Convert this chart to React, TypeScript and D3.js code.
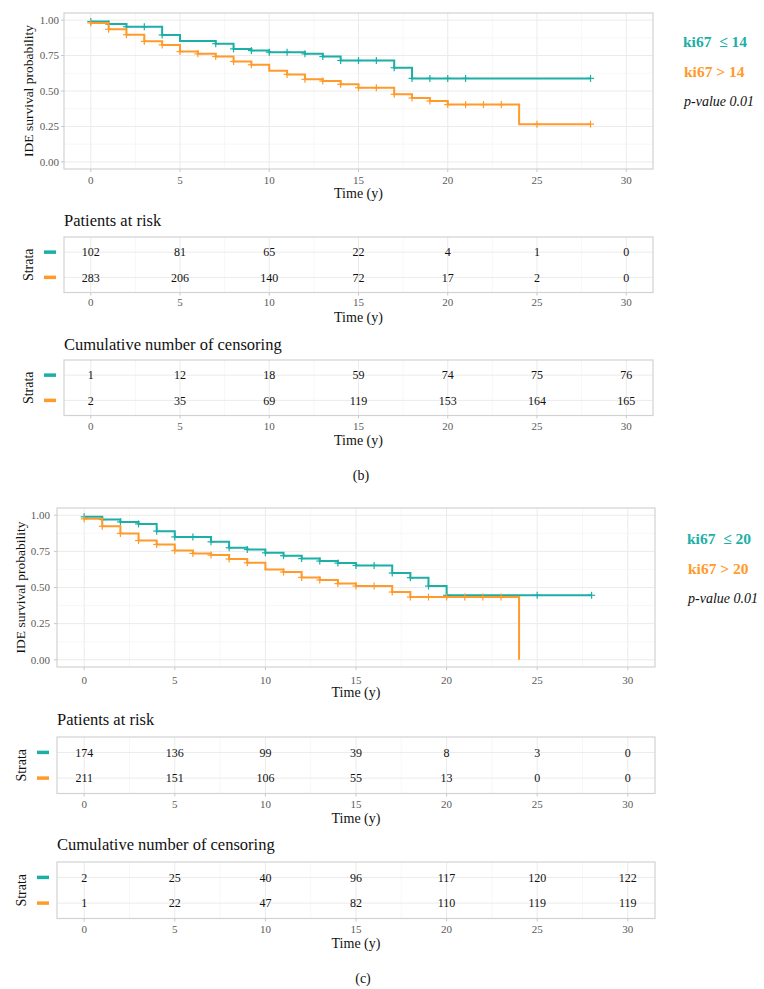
import React from 'react';
import * as d3 from 'd3';

const TEAL = '#1cafa6';
const ORANGE = '#ff9a2b';
const FONT = '"Liberation Serif", "Times New Roman", serif';

const timeTicks = [0, 5, 10, 15, 20, 25, 30];
const timeMinor = [2.5, 7.5, 12.5, 17.5, 22.5, 27.5];
const survTicks = [0, 0.25, 0.5, 0.75, 1];
const survMinor = [0.125, 0.375, 0.625, 0.875];
const survTickLabels = ['0.00', '0.25', '0.50', '0.75', '1.00'];

// Panel (b): ki67 cut-off 14
const bTealTimes = [0, 1, 2, 4, 5, 7, 8, 9, 10, 12, 13, 14, 17, 18];
const bTealSurv = [0.99, 0.972, 0.953, 0.895, 0.853, 0.834, 0.797, 0.785, 0.774, 0.762, 0.743, 0.715, 0.664, 0.589];
const bTealEnd = 28;
const bTealCensor = [0, 1, 2, 3, 4, 7, 8, 9, 10, 11, 12, 13, 14, 15, 16, 17, 18, 19, 20, 21, 28];
const bOrangeTimes = [0, 1, 2, 3, 4, 5, 6, 7, 8, 9, 10, 11, 12, 13, 14, 15, 17, 18, 19, 20, 24];
const bOrangeSurv = [0.98, 0.935, 0.897, 0.85, 0.825, 0.778, 0.762, 0.743, 0.708, 0.685, 0.643, 0.617, 0.582, 0.57, 0.547, 0.523, 0.477, 0.451, 0.43, 0.404, 0.266];
const bOrangeEnd = 28;
const bOrangeCensor = [0, 1, 2, 3, 4, 5, 6, 7, 8, 9, 11, 12, 13, 14, 15, 16, 17, 18, 19, 20, 21, 22, 23, 25, 28];
const bRiskTeal = [102, 81, 65, 22, 4, 1, 0];
const bRiskOrange = [283, 206, 140, 72, 17, 2, 0];
const bCensTeal = [1, 12, 18, 59, 74, 75, 76];
const bCensOrange = [2, 35, 69, 119, 153, 164, 165];

// Panel (c): ki67 cut-off 20
const cTealTimes = [0, 1, 2, 3, 4, 5, 7, 8, 9, 10, 11, 12, 13, 14, 15, 17, 18, 19, 20];
const cTealSurv = [0.989, 0.97, 0.954, 0.94, 0.89, 0.85, 0.816, 0.775, 0.763, 0.74, 0.72, 0.7, 0.683, 0.669, 0.653, 0.6, 0.568, 0.51, 0.446];
const cTealEnd = 28;
const cTealCensor = [0, 1, 2, 3, 4, 5, 6, 7, 8, 9, 10, 11, 12, 13, 14, 15, 16, 17, 18, 19, 20, 25, 28];
const cOrangeTimes = [0, 1, 2, 3, 4, 5, 6, 7, 8, 9, 10, 11, 12, 13, 14, 15, 17, 18, 24];
const cOrangeSurv = [0.975, 0.924, 0.874, 0.825, 0.798, 0.756, 0.736, 0.724, 0.697, 0.671, 0.625, 0.607, 0.57, 0.552, 0.527, 0.51, 0.469, 0.434, 0];
const cOrangeEnd = 24;
const cOrangeCensor = [0, 1, 2, 3, 4, 5, 6, 7, 8, 9, 11, 12, 13, 14, 15, 16, 17, 18, 19, 20, 21, 22, 23];
const cRiskTeal = [174, 136, 99, 39, 8, 3, 0];
const cRiskOrange = [211, 151, 106, 55, 13, 0, 0];
const cCensTeal = [2, 25, 40, 96, 117, 120, 122];
const cCensOrange = [1, 22, 47, 82, 110, 119, 119];

type Series = { times: number[]; surv: number[]; end: number; censor: number[]; color: string };

function survAt(s: Series, t: number) {
  let v = s.surv[0];
  for (let i = 0; i < s.times.length; i++) if (s.times[i] <= t) v = s.surv[i];
  return v;
}

const GRID_MAJOR = '#ebebeb';
const GRID_MINOR = '#f5f5f5';
const BORDER = '#d2d2d2';
const TICK_TXT = '#5a5a5a';

function KMPlot(props: {
  left: number; right: number; top: number; bottom: number;
  yLabX: number; yTitleX: number; xLabY: number; xTitleY: number;
  series: Series[]; legendX: number; legendY: number; legend: string[];
}) {
  const { left, right, top, bottom, series } = props;
  const x = d3.scaleLinear().domain([-1.5, 31.5]).range([left, right]);
  const y = d3.scaleLinear().domain([-0.05, 1.05]).range([bottom, top]);
  const line = d3.line<[number, number]>().x(d => x(d[0])).y(d => y(d[1])).curve(d3.curveStepAfter);
  return (
    <g>
      <rect x={left} y={top} width={right - left} height={bottom - top} fill="white" />
      {timeMinor.map(t => <line key={'xm' + t} x1={x(t)} x2={x(t)} y1={top} y2={bottom} stroke={GRID_MINOR} strokeWidth={0.8} />)}
      {survMinor.map(t => <line key={'ym' + t} y1={y(t)} y2={y(t)} x1={left} x2={right} stroke={GRID_MINOR} strokeWidth={0.8} />)}
      {timeTicks.map(t => <line key={'xg' + t} x1={x(t)} x2={x(t)} y1={top} y2={bottom} stroke={GRID_MAJOR} strokeWidth={1} />)}
      {survTicks.map(t => <line key={'yg' + t} y1={y(t)} y2={y(t)} x1={left} x2={right} stroke={GRID_MAJOR} strokeWidth={1} />)}
      {series.map((s, i) => {
        const pts: [number, number][] = s.times.map((t, j) => [t, s.surv[j]] as [number, number]);
        pts.push([s.end, s.surv[s.surv.length - 1]]);
        return (
          <g key={'s' + i}>
            <path d={line(pts) || ''} fill="none" stroke={s.color} strokeWidth={2} />
            {s.censor.map(t => {
              const cx = x(t), cy = y(survAt(s, t));
              return (
                <g key={'c' + t} stroke={s.color} strokeWidth={1.2}>
                  <line x1={cx} x2={cx} y1={cy - 3.5} y2={cy + 3.5} />
                  <line x1={cx - 3.5} x2={cx + 3.5} y1={cy} y2={cy} />
                </g>
              );
            })}
          </g>
        );
      })}
      <rect x={left} y={top} width={right - left} height={bottom - top} fill="none" stroke={BORDER} strokeWidth={1.2} />
      {survTicks.map((t, i) => (
        <g key={'yt' + t}>
          <line x1={left - 3} x2={left} y1={y(t)} y2={y(t)} stroke="#c8c8c8" />
          <text x={props.yLabX} y={y(t)} dy="0.35em" textAnchor="end" fontSize={11} fill={TICK_TXT} fontFamily={FONT}>{survTickLabels[i]}</text>
        </g>
      ))}
      {timeTicks.map(t => (
        <g key={'xt' + t}>
          <line x1={x(t)} x2={x(t)} y1={bottom} y2={bottom + 3} stroke="#c8c8c8" />
          <text x={x(t)} y={props.xLabY} textAnchor="middle" fontSize={11} fill={TICK_TXT} fontFamily={FONT}>{t}</text>
        </g>
      ))}
      <text x={(left + right) / 2} y={props.xTitleY} textAnchor="middle" fontSize={14} fill="#111" fontFamily={FONT}>Time (y)</text>
      <text transform={`translate(${props.yTitleX},${(top + bottom) / 2}) rotate(-90)`} textAnchor="middle" dy="0.35em" fontSize={13.5} fill="#111" fontFamily={FONT}>IDE survival probability</text>
      <text x={props.legendX} y={props.legendY} fontSize={15.5} fontWeight="bold" fill={TEAL} fontFamily={FONT} style={{ whiteSpace: 'pre' }}>{props.legend[0]}</text>
      <text x={props.legendX + 1} y={props.legendY + 29.5} fontSize={15.5} fontWeight="bold" fill={ORANGE} fontFamily={FONT} style={{ whiteSpace: 'pre' }}>{props.legend[1]}</text>
      <text x={props.legendX + 1} y={props.legendY + 58.5} fontSize={14} fontStyle="italic" fill="#111" fontFamily={FONT}>{props.legend[2]}</text>
    </g>
  );
}

function RiskTable(props: {
  title: string; left: number; right: number; titleY: number; top: number; bottom: number;
  tickY: number; timeY: number; strataX: number; dashX: number; teal: number[]; orange: number[];
}) {
  const { left, right, top, bottom } = props;
  const x = d3.scaleLinear().domain([-1.5, 31.5]).range([left, right]);
  const y = d3.scaleLinear().domain([0.4, 2.6]).range([bottom, top]);
  const rows = [{ v: props.teal, pos: 2, color: TEAL }, { v: props.orange, pos: 1, color: ORANGE }];
  return (
    <g>
      <text x={left} y={props.titleY} fontSize={16.5} fill="#111" fontFamily={FONT}>{props.title}</text>
      <rect x={left} y={top} width={right - left} height={bottom - top} fill="white" />
      {timeMinor.map(t => <line key={'m' + t} x1={x(t)} x2={x(t)} y1={top} y2={bottom} stroke={GRID_MINOR} strokeWidth={0.8} />)}
      {timeTicks.map(t => <line key={'g' + t} x1={x(t)} x2={x(t)} y1={top} y2={bottom} stroke={GRID_MAJOR} strokeWidth={1} />)}
      {rows.map(r => <line key={'h' + r.pos} x1={left} x2={right} y1={y(r.pos)} y2={y(r.pos)} stroke={GRID_MAJOR} strokeWidth={1} />)}
      <rect x={left} y={top} width={right - left} height={bottom - top} fill="none" stroke={BORDER} strokeWidth={1.2} />
      {rows.map(r => (
        <g key={'r' + r.pos}>
          <line x1={props.dashX} x2={props.dashX + 12} y1={y(r.pos)} y2={y(r.pos)} stroke={r.color} strokeWidth={3.5} />
          {r.v.map((val, i) => (
            <text key={i} x={x(timeTicks[i])} y={y(r.pos)} dy="0.35em" textAnchor="middle" fontSize={12} fill="#111" fontFamily={FONT}>{val}</text>
          ))}
        </g>
      ))}
      {timeTicks.map(t => (
        <g key={'xt' + t}>
          <line x1={x(t)} x2={x(t)} y1={bottom} y2={bottom + 3} stroke="#c8c8c8" />
          <text x={x(t)} y={props.tickY} textAnchor="middle" fontSize={11} fill={TICK_TXT} fontFamily={FONT}>{t}</text>
        </g>
      ))}
      <text x={(left + right) / 2} y={props.timeY} textAnchor="middle" fontSize={14} fill="#111" fontFamily={FONT}>Time (y)</text>
      <text transform={`translate(${props.strataX},${(top + bottom) / 2}) rotate(-90)`} textAnchor="middle" dy="0.35em" fontSize={14} fill="#111" fontFamily={FONT}>Strata</text>
    </g>
  );
}

export default function App() {
  const bSeries: Series[] = [
    { times: bTealTimes, surv: bTealSurv, end: bTealEnd, censor: bTealCensor, color: TEAL },
    { times: bOrangeTimes, surv: bOrangeSurv, end: bOrangeEnd, censor: bOrangeCensor, color: ORANGE },
  ];
  const cSeries: Series[] = [
    { times: cTealTimes, surv: cTealSurv, end: cTealEnd, censor: cTealCensor, color: TEAL },
    { times: cOrangeTimes, surv: cOrangeSurv, end: cOrangeEnd, censor: cOrangeCensor, color: ORANGE },
  ];
  return (
    <svg width={764} height={989} style={{ position: 'absolute', left: 0, top: 0, background: 'white' }}>
      <rect width={764} height={989} fill="white" />
      <KMPlot left={64} right={653} top={13} bottom={169} yLabX={59} yTitleX={28} xLabY={184} xTitleY={198}
        series={bSeries} legendX={683} legendY={47} legend={['ki67  \u2264 14', 'ki67 > 14', 'p-value 0.01']} />
      <RiskTable title="Patients at risk" left={64} right={653} titleY={226} top={237} bottom={292.5}
        tickY={306} timeY={322} strataX={28} dashX={44} teal={bRiskTeal} orange={bRiskOrange} />
      <RiskTable title="Cumulative number of censoring" left={64} right={653} titleY={350} top={360} bottom={415.5}
        tickY={430} timeY={445} strataX={28} dashX={44} teal={bCensTeal} orange={bCensOrange} />
      <text x={361} y={480} textAnchor="middle" fontSize={14} fill="#111" fontFamily={FONT}>(b)</text>

      <KMPlot left={57} right={655} top={508} bottom={667} yLabX={50} yTitleX={20} xLabY={684} xTitleY={697}
        series={cSeries} legendX={687} legendY={544} legend={['ki67  \u2264 20', 'ki67 > 20', 'p-value 0.01']} />
      <RiskTable title="Patients at risk" left={57} right={655} titleY={725} top={737} bottom={793.5}
        tickY={808} timeY={823} strataX={21} dashX={37} teal={cRiskTeal} orange={cRiskOrange} />
      <RiskTable title="Cumulative number of censoring" left={57} right={655} titleY={850} top={862} bottom={918.5}
        tickY={933} timeY={948} strataX={21} dashX={37} teal={cCensTeal} orange={cCensOrange} />
      <text x={363} y={983} textAnchor="middle" fontSize={14} fill="#111" fontFamily={FONT}>(c)</text>
    </svg>
  );
}
